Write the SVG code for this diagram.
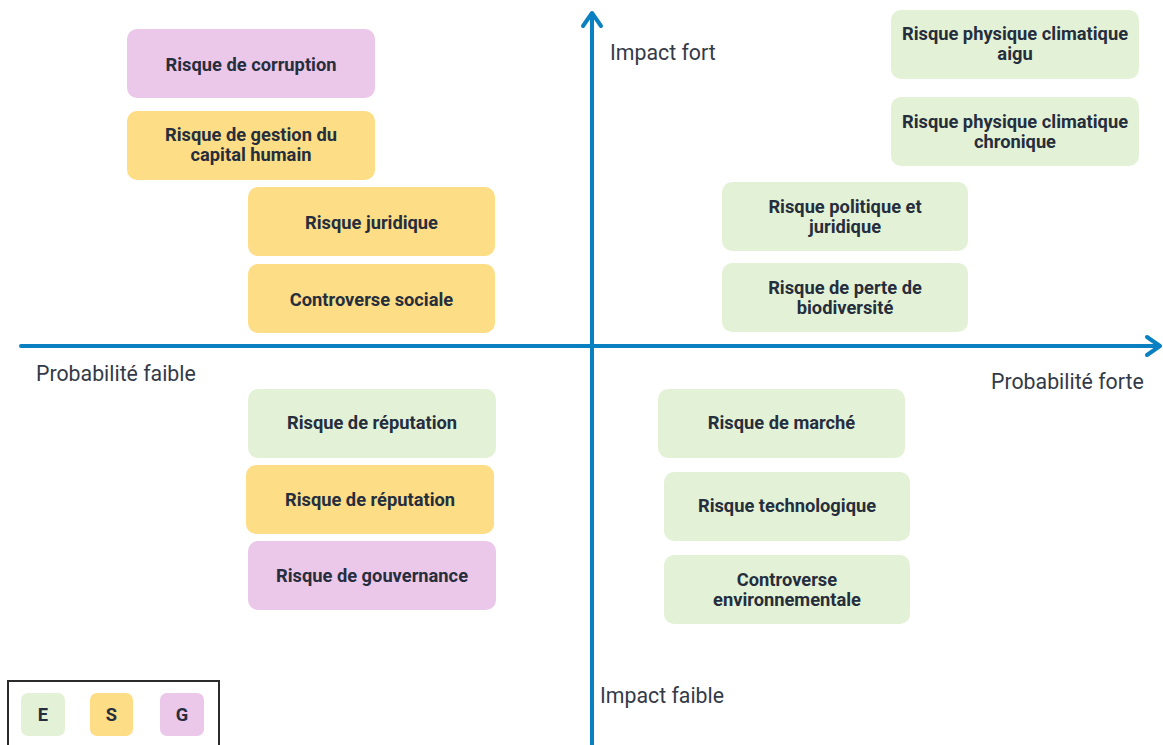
<svg xmlns="http://www.w3.org/2000/svg" width="1163" height="745" viewBox="0 0 1163 745">
<style>
.n rect{rx:10px;ry:10px}
.E{fill:#E3F2D6}
.S{fill:#FDDD85}
.G{fill:#EBC7E9}
.t{font-family:Roboto,"Liberation Sans",sans-serif;font-weight:700;font-size:18.3px;fill:#262E3D;text-anchor:middle}
.ax{font-family:Roboto,"Liberation Sans",sans-serif;font-size:21.3px;fill:#333A47}
.axis{stroke:#0A80C2;stroke-width:4;fill:none;stroke-linecap:round;stroke-linejoin:round}
</style>
<rect width="1163" height="745" fill="#fff"/>
<g id="connectors">
<line class="axis" x1="592" y1="14" x2="592" y2="747"/>
<polyline class="axis" points="583,26 592,13 601,26"/>
<line class="axis" x1="21" y1="346" x2="1159" y2="346"/>
<polyline class="axis" points="1147,337 1160,346 1147,355"/>
</g>
<g id="axis-labels">
<text class="ax" x="610" y="60">Impact fort</text>
<text class="ax" x="600" y="703">Impact faible</text>
<text class="ax" x="36" y="381">Probabilité faible</text>
<text class="ax" x="991" y="389">Probabilité forte</text>
</g>
<g id="n1" class="n"><rect class="G" x="127" y="29" width="248" height="69"/><text class="t" x="251" y="71">Risque de corruption</text></g>
<g id="n2" class="n"><rect class="S" x="127" y="111" width="248" height="69"/><text class="t" x="251" y="141">Risque de gestion du</text><text class="t" x="251" y="161">capital humain</text></g>
<g id="n3" class="n"><rect class="S" x="248" y="187" width="247" height="69"/><text class="t" x="371.5" y="229">Risque juridique</text></g>
<g id="n4" class="n"><rect class="S" x="248" y="264" width="247" height="69"/><text class="t" x="371.5" y="306">Controverse sociale</text></g>
<g id="n5" class="n"><rect class="E" x="891" y="10" width="248" height="69"/><text class="t" x="1015" y="40">Risque physique climatique</text><text class="t" x="1015" y="60">aigu</text></g>
<g id="n6" class="n"><rect class="E" x="891" y="97" width="248" height="69"/><text class="t" x="1015" y="128">Risque physique climatique</text><text class="t" x="1015" y="148">chronique</text></g>
<g id="n7" class="n"><rect class="E" x="722" y="182" width="246" height="69"/><text class="t" x="845" y="213">Risque politique et</text><text class="t" x="845" y="233">juridique</text></g>
<g id="n8" class="n"><rect class="E" x="722" y="263" width="246" height="69"/><text class="t" x="845" y="294">Risque de perte de</text><text class="t" x="845" y="314">biodiversité</text></g>
<g id="n9" class="n"><rect class="E" x="248" y="389" width="248" height="69"/><text class="t" x="372" y="429">Risque de réputation</text></g>
<g id="n10" class="n"><rect class="S" x="246" y="465" width="248" height="69"/><text class="t" x="370" y="506">Risque de réputation</text></g>
<g id="n11" class="n"><rect class="G" x="248" y="541" width="248" height="69"/><text class="t" x="372" y="582">Risque de gouvernance</text></g>
<g id="n12" class="n"><rect class="E" x="658" y="389" width="247" height="69"/><text class="t" x="781.5" y="429">Risque de marché</text></g>
<g id="n13" class="n"><rect class="E" x="664" y="472" width="246" height="69"/><text class="t" x="787" y="512">Risque technologique</text></g>
<g id="n14" class="n"><rect class="E" x="664" y="555" width="246" height="69"/><text class="t" x="787" y="586">Controverse</text><text class="t" x="787" y="606">environnementale</text></g>
<g id="legend">
<rect x="8" y="681" width="211" height="70" fill="none" stroke="#2B2B2B" stroke-width="2"/>
<rect class="E" x="21" y="693" width="44" height="43" rx="7"/>
<text class="t" x="43" y="721">E</text>
<rect class="S" x="90" y="693" width="43" height="43" rx="7"/>
<text class="t" x="111.5" y="721">S</text>
<rect class="G" x="160" y="693" width="44" height="43" rx="7"/>
<text class="t" x="182" y="721">G</text>
</g>
</svg>
